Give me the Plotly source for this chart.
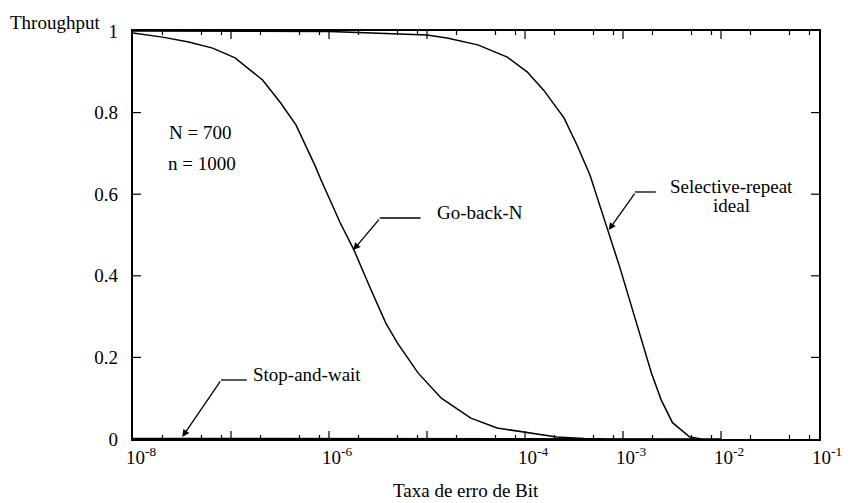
import math
import plotly.graph_objects as go

# Bit error rate (x) and throughput (y) for each ARQ scheme, N = 700, n = 1000
gbn_ber = [1.0e-8, 2.0e-8, 3.7e-8, 6.5e-8, 1.1e-7, 2.1e-7, 3.2e-7, 4.6e-7, 7.2e-7,
           8.3e-7, 1.3e-6, 1.8e-6, 2.6e-6, 3.8e-6, 5.0e-6, 8.1e-6, 1.4e-5, 2.8e-5,
           5.2e-5, 1.05e-4, 2.1e-4, 4.0e-4, 6.3e-4]
gbn_thr = [0.995, 0.985, 0.973, 0.958, 0.934, 0.88, 0.824, 0.77, 0.67,
           0.635, 0.53, 0.463, 0.373, 0.284, 0.235, 0.162, 0.10, 0.051,
           0.027, 0.015, 0.005, 0.001, 0.0]

sr_ber = [1.0e-8, 1.0e-7, 1.0e-6, 1.0e-5, 1.6e-5, 3.3e-5, 6.6e-5, 1.05e-4, 1.55e-4,
          2.5e-4, 3.4e-4, 4.6e-4, 6.5e-4, 7.1e-4, 9.3e-4, 1.17e-3, 1.48e-3, 1.95e-3,
          2.45e-3, 3.2e-3, 4.8e-3, 6.3e-3]
sr_thr = [1.0, 1.0, 0.999, 0.99, 0.983, 0.966, 0.936, 0.90, 0.855,
          0.787, 0.72, 0.647, 0.54, 0.507, 0.42, 0.34, 0.26, 0.162,
          0.096, 0.04, 0.005, 0.0]

sw_ber = [1.0e-8, 1.0e-6, 1.0e-4, 1.0e-3, 1.0e-2]
sw_thr = [0.0014, 0.0014, 0.0013, 0.0005, 0.0]

x_label_vals = [1e-8, 1e-6, 1e-4, 1e-3, 1e-2, 1e-1]
x_label_text = ["10<sup>-8</sup>", "10<sup>-6</sup>", "10<sup>-4</sup>",
                "10<sup>-3</sup>", "10<sup>-2</sup>", "10<sup>-1</sup>"]
x_major_ticks = [1e-7, 1e-6, 1e-5, 1e-4, 1e-3, 1e-2]
x_minor_ticks = [m * 10.0 ** e for e in range(-8, -1) for m in (2, 5, 8)]
y_tick_vals = [0, 0.2, 0.4, 0.6, 0.8, 1.0]
y_tick_text = ["0", "0.2", "0.4", "0.6", "0.8", "1"]

FONT = "Liberation Serif, Times New Roman, serif"
FS = 19
NB = "\u00a0"
X_LOG_RANGE = [-8, -1]
PLOT_W, PLOT_H = 691, 408
MAJOR_LEN, MINOR_LEN = 8, 4

fig = go.Figure()
line = dict(color="black", width=1.5)
fig.add_trace(go.Scatter(x=gbn_ber, y=gbn_thr, mode="lines", line=line, name="Go-back-N"))
fig.add_trace(go.Scatter(x=sr_ber, y=sr_thr, mode="lines", line=line, name="Selective-repeat ideal"))
fig.add_trace(go.Scatter(x=sw_ber, y=sw_thr, mode="lines", line=line, name="Stop-and-wait"))

fig.update_xaxes(
    type="log", range=X_LOG_RANGE,
    tickmode="array", tickvals=x_label_vals, ticktext=x_label_text,
    ticks="", showline=True, linecolor="black", linewidth=1.5, mirror=True,
    showgrid=False, zeroline=False, ticklabelshift=8,
    tickfont=dict(family=FONT, size=FS, color="black"),
)
fig.update_yaxes(
    range=[0, 1],
    tickmode="array", tickvals=y_tick_vals, ticktext=[t + NB * 2 for t in y_tick_text],
    ticks="", showline=True, linecolor="black", linewidth=1.5, mirror=True,
    showgrid=False, zeroline=False,
    tickfont=dict(family=FONT, size=FS, color="black"),
)


def x_frac(v):
    """Fraction of the plot width for a bit error rate on the log axis."""
    return (math.log10(v) - X_LOG_RANGE[0]) / (X_LOG_RANGE[1] - X_LOG_RANGE[0])


shapes = []
tick_line = dict(color="black", width=1.2)
# inward tick marks on all four sides
for v, length in [(v, MAJOR_LEN) for v in x_major_ticks] + [(v, MINOR_LEN) for v in x_minor_ticks]:
    xf = x_frac(v)
    d = length / PLOT_H
    shapes.append(dict(type="line", xref="paper", yref="paper", x0=xf, x1=xf, y0=0, y1=d, line=tick_line))
    shapes.append(dict(type="line", xref="paper", yref="paper", x0=xf, x1=xf, y0=1, y1=1 - d, line=tick_line))
for v in y_tick_vals[1:-1]:
    d = MAJOR_LEN / PLOT_W
    shapes.append(dict(type="line", xref="paper", yref="y", x0=0, x1=d, y0=v, y1=v, line=tick_line))
    shapes.append(dict(type="line", xref="paper", yref="y", x0=1, x1=1 - d, y0=v, y1=v, line=tick_line))

# horizontal legs of the callouts
for x0, x1, y in [(0.3598, 0.4191, 0.5417), (0.7316, 0.7620, 0.6054), (0.1282, 0.1659, 0.1446)]:
    shapes.append(dict(type="line", xref="paper", yref="paper", x0=x0, x1=x1, y0=y, y1=y,
                       line=dict(color="black", width=1.3)))

txt = dict(family=FONT, size=FS, color="black")
annotations = [
    dict(text="Throughput", xref="paper", yref="paper", x=-0.1135, y=1.022,
         xanchor="center", yanchor="middle", showarrow=False, font=txt),
    dict(text="Taxa de erro de Bit", xref="paper", yref="paper", x=0.485, y=-0.127,
         xanchor="center", yanchor="middle", showarrow=False, font=txt),
    dict(text="N = 700", xref="x", yref="y", x=-7.65, y=0.752,
         xanchor="left", yanchor="middle", showarrow=False, font=txt),
    dict(text="n = 1000", xref="x", yref="y", x=-7.66, y=0.676,
         xanchor="left", yanchor="middle", showarrow=False, font=txt),
    dict(text="Go-back-N", xref="x", yref="y", x=-4.92, y=0.556,
         xanchor="left", yanchor="middle", showarrow=False, font=txt),
    dict(text="Selective-repeat", xref="x", yref="y", x=-1.888, y=0.618,
         xanchor="center", yanchor="middle", showarrow=False, font=txt),
    dict(text="ideal", xref="x", yref="y", x=-1.888, y=0.572,
         xanchor="center", yanchor="middle", showarrow=False, font=txt),
    dict(text="Stop-and-wait", xref="x", yref="y", x=-6.797, y=0.159,
         xanchor="left", yanchor="middle", showarrow=False, font=txt),
]
# callout arrows (diagonal leg, pointing at each curve)
for tip_x, tip_y, dx, dy in [(-5.753, 0.463, 27, -32),
                             (-3.146, 0.512, 27, -38),
                             (-7.497, 0.005, 39, -57)]:
    annotations.append(dict(text="", xref="x", yref="y", x=tip_x, y=tip_y,
                            ax=dx, ay=dy, showarrow=True, arrowhead=2,
                            arrowsize=1.1, arrowwidth=1.3, arrowcolor="black",
                            standoff=0))

fig.update_layout(
    width=854, height=503,
    margin=dict(l=133, r=30, t=31, b=64),
    paper_bgcolor="white", plot_bgcolor="white",
    showlegend=False,
    annotations=annotations, shapes=shapes,
    font=txt,
)

fig.write_html("out.html")
